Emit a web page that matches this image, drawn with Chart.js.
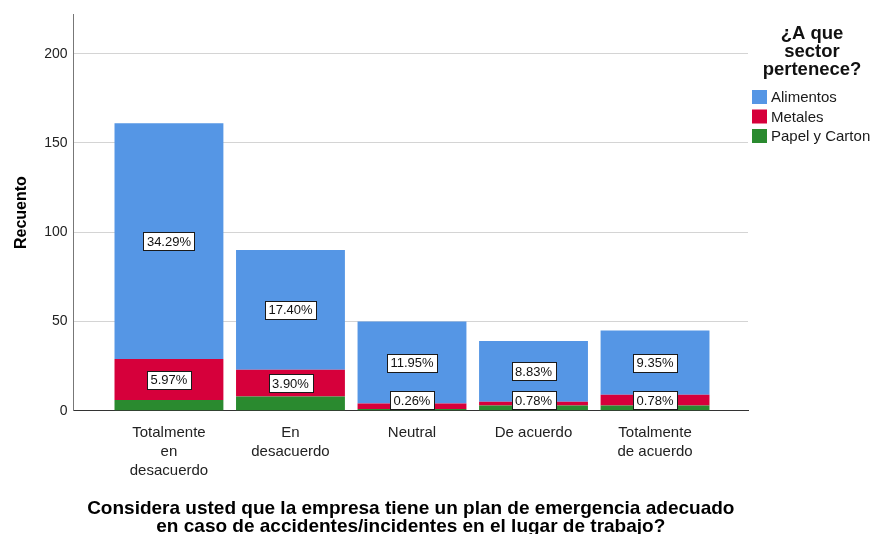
<!DOCTYPE html>
<html>
<head>
<meta charset="utf-8">
<script src="https://cdn.jsdelivr.net/npm/chart.js@4.4.1/dist/chart.umd.min.js"></script>
<style>
  html, body { margin: 0; padding: 0; background: #ffffff; }
  #wrap { width: 876px; height: 534px; }
</style>
</head>
<body>
<div id="wrap"><canvas id="c" width="876" height="534"></canvas></div>
<script>
// ---- data ----
const categories = [
  ["Totalmente", "en", "desacuerdo"],
  ["En", "desacuerdo"],
  ["Neutral"],
  ["De acuerdo"],
  ["Totalmente", "de acuerdo"]
];
const seriesNames = ["Papel y Carton", "Metales", "Alimentos"];
const papel     = [6, 8, 1, 3, 3];
const metales   = [23, 15, 3, 2, 6];
const alimentos = [132, 67, 46, 34, 36];
// which segment labels are shown (per series, per category)
const showPapel     = [false, false, true, true, true];
const showMetales   = [true, true, false, false, false];
const showAlimentos = [true, true, true, true, true];
const yTicks = [0, 50, 100, 150, 200];
const legendTitle = ["¿A que", "sector", "pertenece?"];
const xTitle = ["Considera usted que la empresa tiene un plan de emergencia adecuado",
                "en caso de accidentes/incidentes en el lugar de trabajo?"];
const yTitle = "Recuento";

const colors = ["#2a8a2f", "#d6003b", "#5596e5"];
const FONT = "'Liberation Sans', Arial, sans-serif";

const seriesValues = [papel, metales, alimentos];
const seriesShow = [showPapel, showMetales, showAlimentos];
const grandTotal = seriesValues.reduce((s, arr) => s + arr.reduce((a, b) => a + b, 0), 0);

const datasets = seriesNames.map((name, k) => ({
  label: name,
  data: seriesValues[k].map((v, i) => ({ x: i, y: v })),
  backgroundColor: colors[k],
  borderWidth: 0,
  stack: "s",
  categoryPercentage: 0.896,
  barPercentage: 1.0
}));

const labelPlugin = {
  id: "segLabels",
  afterDatasetsDraw(chart) {
    const ctx = chart.ctx;
    const area = chart.chartArea;
    ctx.save();
    ctx.font = "13px " + FONT;
    ctx.textAlign = "center";
    ctx.textBaseline = "middle";
    const h = 18;
    chart.data.datasets.forEach((ds, k) => {
      const meta = chart.getDatasetMeta(k);
      meta.data.forEach((bar, i) => {
        if (!seriesShow[k][i]) return;
        const v = seriesValues[k][i];
        const txt = (v / grandTotal * 100).toFixed(2) + "%";
        const w = ctx.measureText(txt).width + 7;
        let cy = (bar.y + bar.base) / 2;
        const maxCy = area.bottom - h / 2 - 1.5;
        if (cy > maxCy) cy = maxCy;
        const cx = bar.x;
        ctx.fillStyle = "#ffffff";
        ctx.fillRect(Math.round(cx - w / 2) + 0.5, Math.round(cy - h / 2) + 0.5, Math.round(w), h);
        ctx.strokeStyle = "#1a1a1a";
        ctx.lineWidth = 1;
        ctx.strokeRect(Math.round(cx - w / 2) + 0.5, Math.round(cy - h / 2) + 0.5, Math.round(w), h);
        ctx.fillStyle = "#111111";
        ctx.fillText(txt, cx, cy + 1);
      });
    });
    ctx.restore();
  }
};

const legendPlugin = {
  id: "customLegend",
  afterDraw(chart) {
    const ctx = chart.ctx;
    const area = chart.chartArea;
    ctx.save();
    // legend
    const cx = 812;
    ctx.fillStyle = "#111111";
    ctx.font = "bold 18.5px " + FONT;
    ctx.textAlign = "center";
    ctx.textBaseline = "middle";
    legendTitle.forEach((t, i) => ctx.fillText(t, cx, 34 + i * 18.2));
    ctx.font = "15px " + FONT;
    ctx.textAlign = "left";
    const order = [2, 1, 0];
    order.forEach((k, j) => {
      const y = 97 + j * 19.5;
      ctx.fillStyle = colors[k];
      ctx.fillRect(752, y - 7, 15, 14);
      ctx.fillStyle = "#1a1a1a";
      ctx.fillText(seriesNames[k], 771, y + 1);
    });
    // x-axis title
    ctx.fillStyle = "#000000";
    ctx.font = "bold 19px " + FONT;
    ctx.textAlign = "center";
    const tx = (area.left + area.right) / 2;
    xTitle.forEach((t, i) => ctx.fillText(t, tx, 509 + i * 18));
    ctx.restore();
  }
};

new Chart(document.getElementById("c"), {
  type: "bar",
  data: { datasets },
  options: {
    responsive: false,
    animation: false,
    devicePixelRatio: 1,
    layout: { padding: { top: 11, right: 128, left: 0, bottom: 41 } },
    plugins: { legend: { display: false }, tooltip: { enabled: false } },
    scales: {
      x: {
        type: "linear",
        min: -0.785,
        max: 4.765,
        offset: false,
        grid: { display: false, drawTicks: false },
        border: { display: true, color: "#333333", width: 1 },
        afterBuildTicks: (s) => { s.ticks = categories.map((c, i) => ({ value: i })); },
        ticks: {
          autoSkip: false,
          maxRotation: 0,
          padding: 13,
          color: "#222222",
          font: { family: FONT, size: 15, lineHeight: 1.25 },
          callback: (v) => categories[v] || ""
        },
        title: { display: false }
      },
      y: {
        min: 0,
        max: 222,
        stacked: true,
        grid: { color: "#d4d4d4", lineWidth: 1, drawTicks: false },
        border: { display: true, color: "#777777", width: 1 },
        afterBuildTicks: (s) => { s.ticks = yTicks.map(v => ({ value: v })); },
        ticks: {
          padding: 6,
          color: "#222222",
          font: { family: FONT, size: 14 }
        },
        title: {
          display: true,
          text: yTitle,
          color: "#000000",
          font: { family: FONT, size: 16, weight: "bold" },
          padding: { top: 12, bottom: 7 }
        }
      }
    }
  },
  plugins: [labelPlugin, legendPlugin]
});
</script>
</body>
</html>
